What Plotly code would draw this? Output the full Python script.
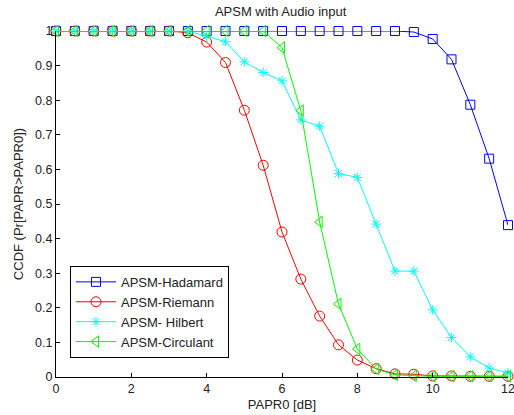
import plotly.graph_objects as go

papr0 = [0, 0.5, 1, 1.5, 2, 2.5, 3, 3.5, 4, 4.5, 5, 5.5, 6, 6.5, 7, 7.5, 8, 8.5, 9, 9.5, 10, 10.5, 11, 11.5, 12]
hadamard = [1, 1, 1, 1, 1, 1, 1, 1, 1, 1, 1, 1, 1, 1, 1, 1, 1, 1, 1, 0.997, 0.977, 0.918, 0.787, 0.631, 0.439]
riemann = [1, 1, 1, 1, 1, 1, 1, 0.995, 0.968, 0.909, 0.771, 0.612, 0.419, 0.283, 0.176, 0.093, 0.049, 0.024, 0.009, 0.008, 0.003, 0.003, 0.002, 0.002, 0.002]
hilbert = [1, 1, 1, 1, 1, 1, 1, 1, 0.985, 0.969, 0.911, 0.880, 0.856, 0.743, 0.725, 0.588, 0.577, 0.442, 0.306, 0.306, 0.194, 0.114, 0.058, 0.026, 0.012]
circulant = [1, 1, 1, 1, 1, 1, 1, 1, 1, 1, 1, 1, 0.952, 0.770, 0.448, 0.211, 0.081, 0.023, 0.006, 0.003, 0.002, 0.002, 0.002, 0.002, 0.002]

names = ["APSM-Hadamard", "APSM-Riemann", "APSM- Hilbert", "APSM-Circulant"]
series = [hadamard, riemann, hilbert, circulant]
colors = ["#0000ff", "#ff0000", "#00ffff", "#00ff00"]
symbols = ["square-open", "circle-open", "asterisk-open", "triangle-left-open"]
sizes = [9, 10, 8, 10]

fig = go.Figure()
for n, s, c, sym, sz in zip(names, series, colors, symbols, sizes):
    fig.add_trace(go.Scatter(
        x=papr0, y=s, name=n, mode="lines+markers",
        line=dict(color=c, width=1),
        marker=dict(symbol=sym, size=sz, color=c, line=dict(color=c, width=1)),
        cliponaxis=False,
    ))

font = "Liberation Sans, Arial, sans-serif"
fig.update_layout(
    width=514, height=415,
    margin=dict(l=56, r=6, t=31, b=38),
    paper_bgcolor="white", plot_bgcolor="white",
    font=dict(family=font, size=13, color="#222222"),
    title=dict(text="APSM with Audio input", x=0.546, xanchor="center", y=0.983, yanchor="top",
               font=dict(family=font, size=13, color="#222222")),
    xaxis=dict(range=[0, 12], dtick=2, tick0=0, showgrid=False, zeroline=False,
               showline=True, linecolor="black", linewidth=1, ticks="inside", ticklen=4,
               tickcolor="black", ticklabeloverflow="allow", tickfont=dict(size=12.5),
               automargin=False,
               title=dict(text="PAPR0 [dB]", standoff=4, font=dict(size=13))),
    yaxis=dict(range=[0, 1], dtick=0.1, tick0=0, showgrid=False, zeroline=False,
               showline=True, linecolor="black", linewidth=1, ticks="inside", ticklen=4,
               tickcolor="black", tickfont=dict(size=12.5), automargin=False,
               title=dict(text="CCDF (Pr[PAPR>PAPR0])", standoff=8, font=dict(size=13))),
    legend=dict(x=0.031, y=0.321, xanchor="left", yanchor="top",
                bordercolor="black", borderwidth=1, bgcolor="white",
                font=dict(size=13), tracegroupgap=0, itemwidth=40),
    showlegend=True,
)

fig.write_html("out.html", config={"displayModeBar": False},
               post_script="document.body.style.margin='0';document.body.style.overflow='hidden';")
